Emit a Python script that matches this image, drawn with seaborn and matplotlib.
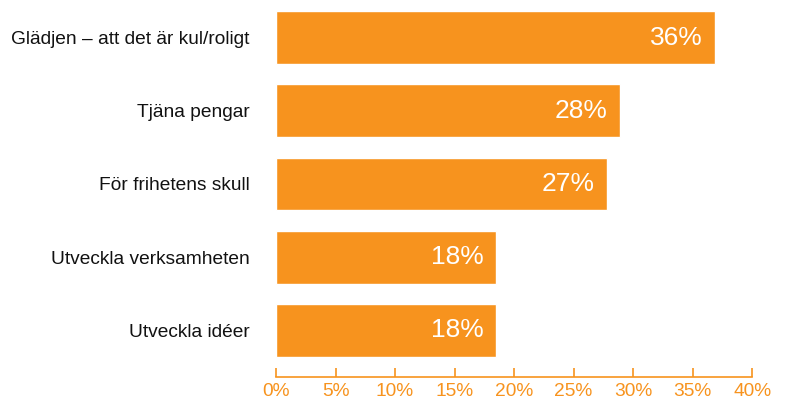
import pandas as pd
import seaborn as sns
import matplotlib.pyplot as plt
from matplotlib.ticker import FuncFormatter

sns.set_style("white")
plt.rcParams['font.family'] = ['Liberation Sans', 'DejaVu Sans']

# Data
reasons = [
    "Glädjen – att det är kul/roligt",
    "Tjäna pengar",
    "För frihetens skull",
    "Utveckla verksamheten",
    "Utveckla idéer",
]
shares = [36.9, 28.9, 27.8, 18.5, 18.5]
share_labels = ["36%", "28%", "27%", "18%", "18%"]

orange = "#F7931E"

df = pd.DataFrame({"reason": reasons, "share": shares})

fig = plt.figure(figsize=(7.87, 4.01), dpi=100)
ax = fig.add_axes([0.3507, 0.0599, 0.605, 0.9401])

sns.barplot(data=df, x="share", y="reason", orient="h", color=orange,
            saturation=1, width=0.72, ax=ax)

for patch, txt in zip(ax.patches, share_labels):
    w = patch.get_width()
    y = patch.get_y() + patch.get_height() / 2
    ax.annotate(txt, (w, y), xytext=(-9, 0), textcoords="offset points",
                ha="right", va="center", color="white", fontsize=19)

ax.set_xlim(0, 40)
ax.set_ylim(4.635, -0.512)
ax.set_xticks(range(0, 41, 5))
ax.xaxis.set_major_formatter(FuncFormatter(lambda v, p: f"{int(v)}%"))
ax.set_xlabel("")
ax.set_ylabel("")

for s in ["top", "right", "left"]:
    ax.spines[s].set_visible(False)
ax.spines["bottom"].set_color(orange)
ax.spines["bottom"].set_linewidth(1.2)

ax.tick_params(axis="x", direction="in", length=6.5, width=1.2, color=orange,
               labelcolor=orange, labelsize=13.8, pad=4, bottom=True)
ax.tick_params(axis="y", length=0, labelsize=13.8, pad=19, labelcolor="#111111")

plt.savefig("out.png", dpi=100)
